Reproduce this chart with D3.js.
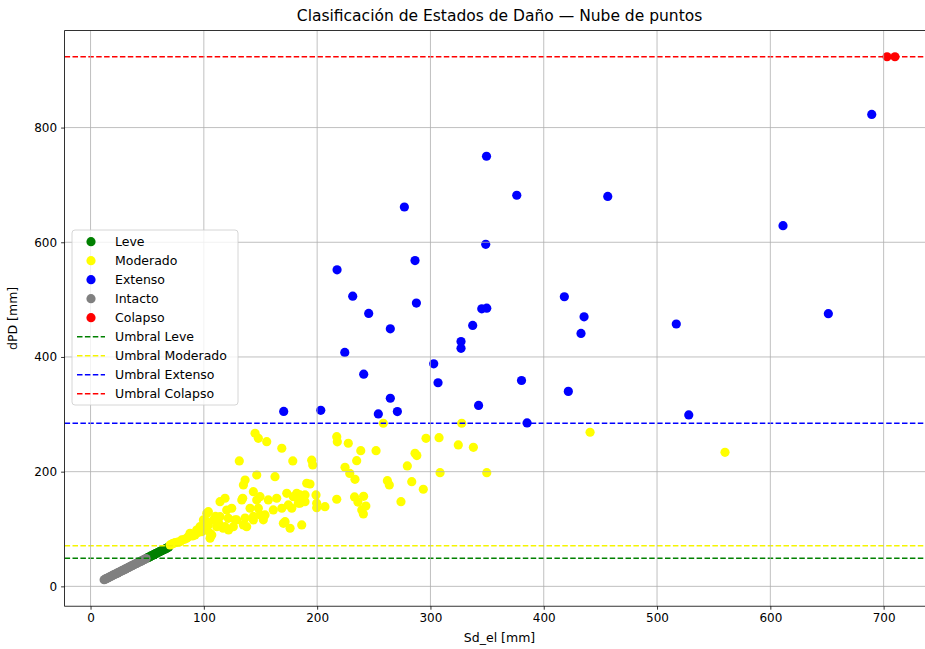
<!DOCTYPE html>
<html><head><meta charset="utf-8">
<script src="https://cdn.jsdelivr.net/npm/d3@7"></script>
<style>body{margin:0;background:#fff}svg{font-family:"DejaVu Sans",sans-serif}</style>
</head><body><svg id="c" width="925" height="649"></svg>
<script>
// ---- data ----
const xTicks=[0,100,200,300,400,500,600,700];
const yTicks=[0,200,400,600,800];
const thresholds=[{name:"Umbral Leve",value:49,color:"green"},{name:"Umbral Moderado",value:71,color:"#f5f500"},{name:"Umbral Extenso",value:284.4,color:"blue"},{name:"Umbral Colapso",value:923.5,color:"red"}];
const leveX=[50,51,52,53,54,55,56,57,58,59,60,61,62,63,64,65,66,67,68,69];
const leveY=[49.6,50.5,51.4,52.6,53.5,54.4,55.6,56.5,57.4,58.6,59.5,60.4,61.5,62.4,63.5,64.5,65.3,66.4,67.5,68.6];
const modX=[70.2,72,73.1,74.6,77,79,80.5,83,84.9,86.3,87.8,90,92.2,93.7,95,96.6,98.1,99.6,101.1,102.6,102.6,104,104,105.5,105.5,107,108.4,110.3,111.4,113,114.3,114.3,117,118.7,118.7,120.2,121.6,121.8,124.6,126,127.7,129,131.3,133.5,134.3,134.9,134.9,136.4,136.4,137.8,140.8,143.7,143.7,143.8,145.2,146.7,146.7,148.1,148.1,149.6,149.6,152.5,154,155.5,156.9,161.3,162.8,164.3,168.8,168.8,170.2,171.7,173.2,174.6,176.1,177.6,178.5,179,182,183.4,184.9,184.8,186.4,189.3,189.3,190.8,193.7,195.2,196.1,199,199.6,199.6,206.9,217.3,217.3,217.8,224.6,227.5,228.8,233.4,233,234.9,236,238.5,239.4,240.8,241,243,252,258.4,262,263.7,274,279.6,283.5,286.4,288,293.7,296.1,307.6,308.5,324.6,327.6,337.9,349.7,440.9,560];
const modY=[72.2,74,75.2,76.2,77,78,80.9,82,83.9,86.7,92.6,88,89.6,98.3,94,104,95.4,115.8,115.8,98.3,127.5,107,130.3,92.6,83.9,89.6,115.8,122,104.1,110.4,121.5,147.7,101.3,153.6,104.1,133,118.7,98.3,136.2,104.1,116,115.8,218.7,150.7,153.6,107.1,176.8,185.5,119,104,136.2,165.1,115.8,122,267,194.2,150.7,258.2,136.2,156.4,125,116,124.5,252.3,150.7,133.2,191.3,153.6,240.8,136.2,110,112.8,162.3,142,101.3,136.2,218.7,156.4,162.3,145,144.9,159.4,107.1,159.4,147.7,179.8,178.5,220,211.7,159.4,145,137.2,139,151.9,261,252,207.7,249.5,197,186.7,156,219.2,147,236.6,133.2,126.2,157,140,236.6,284.4,184.3,176.8,147.7,210,182.6,232,228,169.3,258.2,259.3,198.3,246.6,284.4,242.5,198.3,268.7,233.8];
const extX=[170.5,203.2,217.6,224.4,231.4,241.1,245.5,254,264.6,264.6,270.8,277,286.4,287.6,302.9,306.7,327,327,337.3,342.5,345.3,349.7,348.8,349.5,376.2,380.4,385.3,418.2,421.7,432.9,435.6,456.5,517,528,611.2,651.2,689.5];
const extY=[305,307,552,408,506,370,476,300.6,449,328,304.7,661.5,568,494,388,355,427,415,455,315.5,484,485,596.5,750,682,359,285,505,340,441,470,680,457.5,299,629,475.5,823];
const intX=[12,13,14,15,16,17,18,19,20,21,22,23,24,25,26,27,28,29,30,31,32,33,34,35,36,37,38,39,40,41,42,43,44,45,46,47,48,49];
const intY=[11.5,12.5,13.6,14.5,15.4,16.6,17.5,18.4,19.6,20.5,21.4,22.6,23.5,24.4,25.5,26.6,27.4,28.5,29.6,30.4,31.5,32.6,33.4,34.5,35.6,36.4,37.5,38.4,39.6,40.5,41.4,42.6,43.5,44.4,45.5,46.6,47.4,48.5];
const colX=[703,710];
const colY=[923.5,923.5];
const series=[
 {name:"Leve",color:"green",xs:leveX,ys:leveY},
 {name:"Moderado",color:"#ffff00",xs:modX,ys:modY},
 {name:"Extenso",color:"blue",xs:extX,ys:extY},
 {name:"Intacto",color:"gray",xs:intX,ys:intY},
 {name:"Colapso",color:"red",xs:colX,ys:colY}];

// ---- layout ----
const svg=d3.select("#c");
const L=64.6,R=934.5,T=30.6,B=606.2;
const x=d3.scaleLinear().domain([-22.9,744.9]).range([L,R]);
const y=d3.scaleLinear().domain([-34.6,969.1]).range([B,T]);
svg.append("defs").append("clipPath").attr("id","clip").append("rect").attr("x",L).attr("y",T).attr("width",R-L).attr("height",B-T);
const plot=svg.append("g").attr("clip-path","url(#clip)");

series.forEach(s=>{
  plot.append("g").selectAll("circle").data(s.xs.map((v,i)=>[v,s.ys[i]])).join("circle")
   .attr("cx",d=>x(d[0])).attr("cy",d=>y(d[1])).attr("r",4.6).attr("fill",s.color);
});
thresholds.forEach(t=>{
  plot.append("line").attr("x1",L).attr("x2",R).attr("y1",y(t.value)).attr("y2",y(t.value))
   .attr("stroke",t.color).attr("stroke-width",1.5).attr("stroke-dasharray","5.5,2.4");
});
// grid
const grid=plot.append("g").attr("stroke","#b0b0b0").attr("stroke-width",0.8);
xTicks.forEach(v=>grid.append("line").attr("x1",x(v)).attr("x2",x(v)).attr("y1",T).attr("y2",B));
yTicks.forEach(v=>grid.append("line").attr("y1",y(v)).attr("y2",y(v)).attr("x1",L).attr("x2",R));

// axes
const xa=svg.append("g").attr("transform",`translate(0,${B})`).call(d3.axisBottom(x).tickValues(xTicks).tickSize(3.5).tickPadding(4).tickFormat(d3.format("d")));
const ya=svg.append("g").attr("transform",`translate(${L},0)`).call(d3.axisLeft(y).tickValues(yTicks).tickSize(3.5).tickPadding(4).tickFormat(d3.format("d")));
[xa,ya].forEach(a=>{a.select(".domain").remove();a.selectAll("text").attr("font-size",12).attr("font-family","DejaVu Sans").attr("fill","#000");a.selectAll("line").attr("stroke","#000").attr("stroke-width",0.8);});
// spines
svg.append("rect").attr("x",L).attr("y",T).attr("width",R-L).attr("height",B-T).attr("fill","none").attr("stroke","#000").attr("stroke-width",0.8);

// labels
svg.append("text").attr("x",(L+R)/2).attr("y",21).attr("text-anchor","middle").attr("font-size",15.5).text("Clasificación de Estados de Daño — Nube de puntos");
svg.append("text").attr("x",(L+R)/2).attr("y",642).attr("text-anchor","middle").attr("font-size",12.5).text("Sd_el [mm]");
svg.append("text").attr("transform",`translate(17,${(T+B)/2}) rotate(-90)`).attr("text-anchor","middle").attr("font-size",12.5).text("dPD [mm]");

// legend
const lg=svg.append("g");
lg.append("rect").attr("x",72).attr("y",230).attr("width",166).attr("height",175).attr("rx",3)
  .attr("fill","#fff").attr("fill-opacity",0.8).attr("stroke","#cccccc").attr("stroke-width",0.8);
const items=series.map(s=>({t:"m",name:s.name,color:s.color})).concat(thresholds.map(t=>({t:"l",name:t.name,color:t.color})));
items.forEach((it,i)=>{
  const yy=241.7+i*19.0;
  if(it.t==="m") lg.append("circle").attr("cx",91).attr("cy",yy).attr("r",4.6).attr("fill",it.color);
  else lg.append("line").attr("x1",77).attr("x2",105).attr("y1",yy).attr("y2",yy).attr("stroke",it.color).attr("stroke-width",1.5).attr("stroke-dasharray","5.5,2.4");
  lg.append("text").attr("x",115).attr("y",yy).attr("dy","0.35em").attr("font-size",12.5).text(it.name);
});
</script></body></html>
